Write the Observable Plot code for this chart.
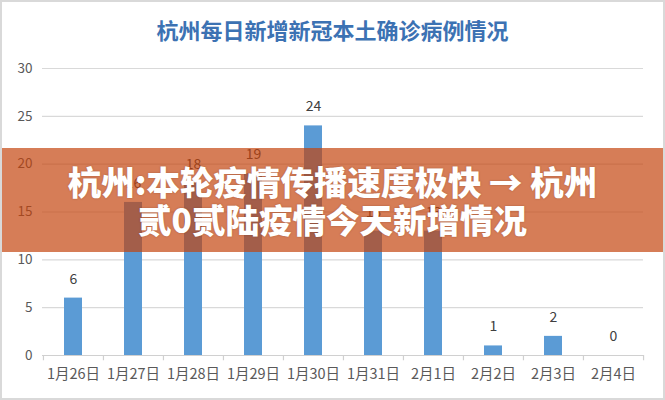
<!DOCTYPE html>
<html>
<head>
<meta charset="utf-8">
<script src="https://cdn.jsdelivr.net/npm/d3@7"></script>
<script src="https://cdn.jsdelivr.net/npm/@observablehq/plot@0.6"></script>
<style>
  html, body { margin: 0; padding: 0; background: #fff; }
  #wrap { position: relative; width: 665px; height: 400px; overflow: hidden; font-family: "Noto Sans CJK SC", "Noto Sans", sans-serif; }
  #frame { position: absolute; left: 0; top: 0; width: 661px; height: 396px; border: 2px solid #d9d9d9; pointer-events: none; }
  #title { position: absolute; left: 0; width: 665px; top: 14px; text-align: center; font-size: 22px; font-weight: 700; color: #3c72b3; line-height: 30px; }
  #banner { position: absolute; left: 0; top: 148px; width: 665px; height: 104px; background: rgba(196,66,12,0.69); }
  #banner div { position: absolute; left: 0; width: 665px; text-align: center; color: #fff; font-weight: 900; font-size: 33.5px; line-height: 38px; text-shadow: 0 0 2px rgba(80,30,10,0.35); }
  svg { display: block; }
</style>
</head>
<body>
<div id="wrap">
  <div id="chart"></div>
  <div id="title"></div>
  <div id="banner"><div id="l1" style="top:14px"></div><div id="l2" style="top:52px"></div></div>
  <div id="frame"></div>
</div>
<script>
const titleText = "杭州每日新增新冠本土确诊病例情况";
const bannerLine1 = "杭州:本轮疫情传播速度极快 → 杭州";
const bannerLine2 = "贰0贰陆疫情今天新增情况";
const dates = ["1月26日","1月27日","1月28日","1月29日","1月30日","1月31日","2月1日","2月2日","2月3日","2月4日"];
const cases = [6, 16, 18, 19, 24, 13, 13, 1, 2, 0];
const yTicks = [0, 5, 10, 15, 20, 25, 30];

document.getElementById("title").textContent = titleText;
document.getElementById("l1").textContent = bannerLine1;
document.getElementById("l2").textContent = bannerLine2;

const data = dates.map((d, i) => ({date: d, value: cases[i]}));
const step = (665 - 42 - 22) / dates.length;

const chart = Plot.plot({
  width: 665,
  height: 400,
  marginLeft: 42,
  marginRight: 22,
  marginTop: 68,
  marginBottom: 45,
  style: {fontFamily: '"Noto Sans CJK SC", "Noto Sans", sans-serif', background: "transparent"},
  x: {domain: dates, paddingInner: 0.7, paddingOuter: 0.35, label: null},
  y: {domain: [0, 30], label: null},
  marks: [
    Plot.gridY(yTicks, {stroke: "#d9d9d9", strokeOpacity: 1, strokeWidth: 1.2}),
    Plot.axisY(yTicks, {tickSize: 0, tickPadding: 10, fontSize: 13.5, fill: "#595959", label: null}),
    Plot.barY(data, {x: "date", y: "value", fill: "#5b9bd5"}),
    Plot.ruleY([0], {stroke: "#d0d0d0", strokeWidth: 1.2}),
    Plot.ruleX(dates, {x: d => d, dx: -step / 2, y1: 0, y2: -0.55, stroke: "#d0d0d0", strokeWidth: 1.2}),
    Plot.ruleX([dates[dates.length - 1]], {x: d => d, dx: step / 2, y1: 0, y2: -0.55, stroke: "#d0d0d0", strokeWidth: 1.2}),
    Plot.text(data, {x: "date", y: "value", text: d => String(d.value), dy: -19, fontSize: 14, fill: "#404040"}),
    Plot.axisX({tickSize: 0, tickPadding: 13, fontSize: 14.5, fill: "#595959", label: null})
  ]
});
document.getElementById("chart").appendChild(chart);
</script>
</body>
</html>
